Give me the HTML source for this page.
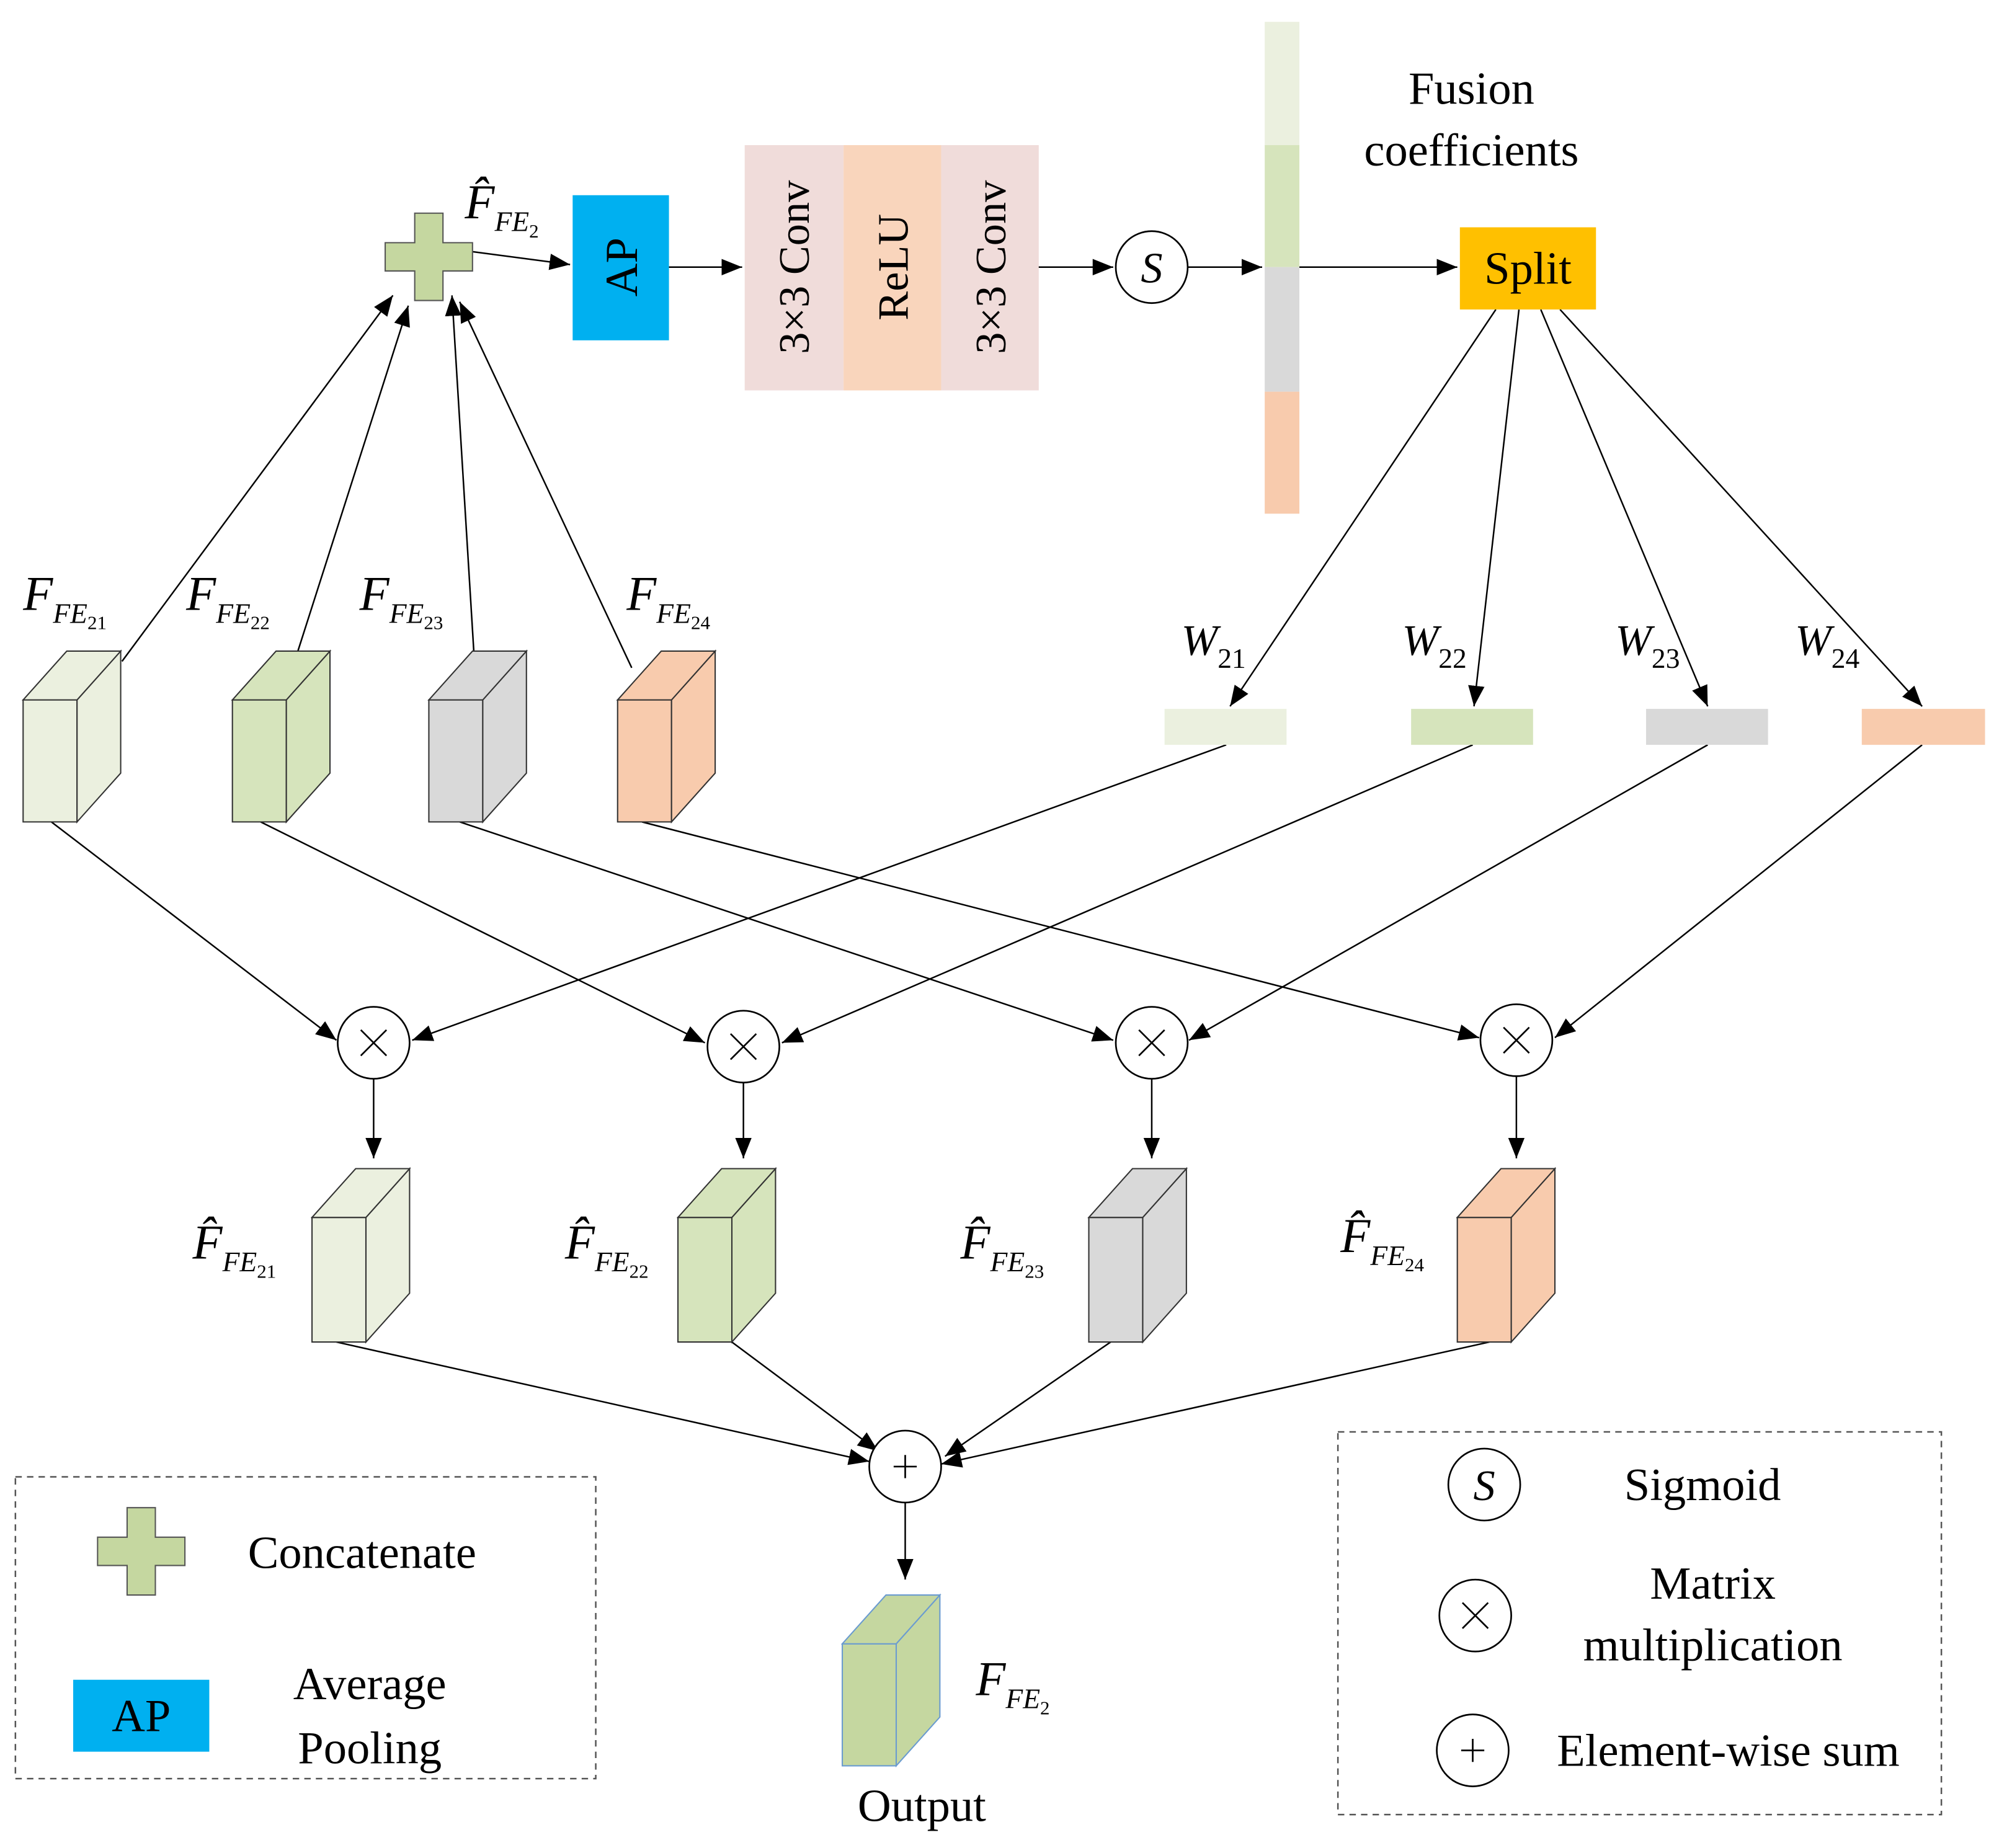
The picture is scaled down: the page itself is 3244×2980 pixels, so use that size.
<!DOCTYPE html>
<html><head><meta charset="utf-8"><style>html,body{margin:0;padding:0;background:#fff}svg{display:block}</style></head><body>
<svg width="3244" height="2980" viewBox="0 0 1567 1439" preserveAspectRatio="none" xmlns="http://www.w3.org/2000/svg" font-family="Liberation Serif, serif">
<defs>
<marker id="b" viewBox="0 0 10 10" refX="10" refY="5" markerWidth="16" markerHeight="16" markerUnits="userSpaceOnUse" orient="auto"><path d="M0,1 L10,5 L0,9 z" fill="#000"/></marker>
</defs>
<rect width="1567" height="1439" fill="#fff"/>
<g stroke="#000" stroke-width="1.2" fill="none" marker-end="url(#b)">
<line x1="368" y1="196" x2="444" y2="206"/>
<line x1="521" y1="208" x2="578" y2="208"/>
<line x1="808" y1="208" x2="867" y2="208"/>
<line x1="925" y1="208" x2="983" y2="208"/>
<line x1="1012" y1="208" x2="1135" y2="208"/>
<line x1="1165" y1="241" x2="958" y2="550"/>
<line x1="1183" y1="241" x2="1148" y2="550"/>
<line x1="1200" y1="241" x2="1330" y2="550"/>
<line x1="1215" y1="241" x2="1497" y2="550"/>
<line x1="95" y1="515" x2="306" y2="230"/>
<line x1="232" y1="507" x2="318" y2="238"/>
<line x1="369" y1="507" x2="352" y2="230"/>
<line x1="492" y1="520" x2="358" y2="235"/>
<line x1="40" y1="640" x2="262" y2="810"/>
<line x1="203" y1="640" x2="549" y2="812"/>
<line x1="358" y1="640" x2="867" y2="810"/>
<line x1="500" y1="640" x2="1152" y2="808"/>
<line x1="955" y1="580" x2="321" y2="810"/>
<line x1="1147" y1="580" x2="609" y2="812"/>
<line x1="1330" y1="580" x2="926" y2="810"/>
<line x1="1497" y1="580" x2="1211" y2="808"/>
<line x1="291" y1="840" x2="291" y2="902"/>
<line x1="579" y1="843" x2="579" y2="902"/>
<line x1="897" y1="840" x2="897" y2="902"/>
<line x1="1181" y1="838" x2="1181" y2="902"/>
<line x1="262" y1="1045" x2="677" y2="1138"/>
<line x1="570" y1="1045" x2="684" y2="1130"/>
<line x1="865" y1="1045" x2="736" y2="1134"/>
<line x1="1160" y1="1045" x2="733" y2="1140"/>
<line x1="705" y1="1170" x2="705" y2="1230"/>
</g>
<path d="M323,166 h22 v23 h23 v22 h-23 v23 h-22 v-23 h-23 v-22 h23 z" fill="#C5D7A0" stroke="#555" stroke-width="1"/>
<rect x="446" y="152" width="75" height="113" fill="#00B0F0"/>
<text transform="translate(496,208) rotate(-90)" font-size="36" text-anchor="middle">AP</text>
<rect x="580" y="113" width="77" height="191" fill="#F0DCDA"/>
<rect x="657" y="113" width="76" height="191" fill="#F9D5BC"/>
<rect x="733" y="113" width="76" height="191" fill="#F0DCDA"/>
<text transform="translate(630,208) rotate(-90)" font-size="34" text-anchor="middle">3×3 Conv</text>
<text transform="translate(707,208) rotate(-90)" font-size="34" text-anchor="middle">ReLU</text>
<text transform="translate(783,208) rotate(-90)" font-size="34" text-anchor="middle">3×3 Conv</text>
<circle cx="897" cy="208" r="28" fill="#fff" stroke="#000" stroke-width="1.3"/>
<text x="897" y="220" font-size="34" font-style="italic" text-anchor="middle">S</text>
<rect x="985" y="17" width="27" height="96" fill="#EBF0DF"/>
<rect x="985" y="113" width="27" height="95" fill="#D6E4BC"/>
<rect x="985" y="208" width="27" height="97" fill="#D9D9D9"/>
<rect x="985" y="305" width="27" height="95" fill="#F8CBAD"/>
<text x="1146" y="81" font-size="36" text-anchor="middle">Fusion</text>
<text x="1146" y="129" font-size="36" text-anchor="middle">coefficients</text>
<rect x="1137" y="177" width="106" height="64" fill="#FFC000"/>
<text x="1190" y="221" font-size="36" text-anchor="middle">Split</text>
<rect x="907" y="552" width="95" height="28" fill="#EBF0DF"/>
<rect x="1099" y="552" width="95" height="28" fill="#D6E4BC"/>
<rect x="1282" y="552" width="95" height="28" fill="#D9D9D9"/>
<rect x="1450" y="552" width="96" height="28" fill="#F8CBAD"/>
<g font-size="34" font-style="italic">
<text x="920" y="510">W<tspan font-size="22" font-style="normal" dy="10">21</tspan></text>
<text x="1092" y="510">W<tspan font-size="22" font-style="normal" dy="10">22</tspan></text>
<text x="1258" y="510">W<tspan font-size="22" font-style="normal" dy="10">23</tspan></text>
<text x="1398" y="510">W<tspan font-size="22" font-style="normal" dy="10">24</tspan></text>
</g>
<g stroke="#333" stroke-width="1">
<g><path d="M18,545 h42 v95 h-42 z" fill="#EBF0DF"/><path d="M60,545 l34,-38 v95 l-34,38 z" fill="#EBF0DF"/><path d="M18,545 l34,-38 h42 l-34,38 z" fill="#EBF0DF"/></g>
<g transform="translate(163,0)"><path d="M18,545 h42 v95 h-42 z" fill="#D6E4BC"/><path d="M60,545 l34,-38 v95 l-34,38 z" fill="#D6E4BC"/><path d="M18,545 l34,-38 h42 l-34,38 z" fill="#D6E4BC"/></g>
<g transform="translate(316,0)"><path d="M18,545 h42 v95 h-42 z" fill="#D9D9D9"/><path d="M60,545 l34,-38 v95 l-34,38 z" fill="#D9D9D9"/><path d="M18,545 l34,-38 h42 l-34,38 z" fill="#D9D9D9"/></g>
<g transform="translate(463,0)"><path d="M18,545 h42 v95 h-42 z" fill="#F8CBAD"/><path d="M60,545 l34,-38 v95 l-34,38 z" fill="#F8CBAD"/><path d="M18,545 l34,-38 h42 l-34,38 z" fill="#F8CBAD"/></g>
<g transform="translate(225,403)"><path d="M18,545 h42 v97 h-42 z" fill="#EBF0DF"/><path d="M60,545 l34,-38 v97 l-34,38 z" fill="#EBF0DF"/><path d="M18,545 l34,-38 h42 l-34,38 z" fill="#EBF0DF"/></g>
<g transform="translate(510,403)"><path d="M18,545 h42 v97 h-42 z" fill="#D6E4BC"/><path d="M60,545 l34,-38 v97 l-34,38 z" fill="#D6E4BC"/><path d="M18,545 l34,-38 h42 l-34,38 z" fill="#D6E4BC"/></g>
<g transform="translate(830,403)"><path d="M18,545 h42 v97 h-42 z" fill="#D9D9D9"/><path d="M60,545 l34,-38 v97 l-34,38 z" fill="#D9D9D9"/><path d="M18,545 l34,-38 h42 l-34,38 z" fill="#D9D9D9"/></g>
<g transform="translate(1117,403)"><path d="M18,545 h42 v97 h-42 z" fill="#F8CBAD"/><path d="M60,545 l34,-38 v97 l-34,38 z" fill="#F8CBAD"/><path d="M18,545 l34,-38 h42 l-34,38 z" fill="#F8CBAD"/></g>
<g transform="translate(638,735)" stroke="#6A9BD0"><path d="M18,545 h42 v95 h-42 z" fill="#C5D7A0"/><path d="M60,545 l34,-38 v95 l-34,38 z" fill="#C5D7A0"/><path d="M18,545 l34,-38 h42 l-34,38 z" fill="#C5D7A0"/></g>
</g>
<g font-size="38" font-style="italic">
<text x="18" y="475">F<tspan font-size="22" dy="10">FE</tspan><tspan font-size="15" font-style="normal" dy="5">21</tspan></text>
<text x="145" y="475">F<tspan font-size="22" dy="10">FE</tspan><tspan font-size="15" font-style="normal" dy="5">22</tspan></text>
<text x="280" y="475">F<tspan font-size="22" dy="10">FE</tspan><tspan font-size="15" font-style="normal" dy="5">23</tspan></text>
<text x="488" y="475">F<tspan font-size="22" dy="10">FE</tspan><tspan font-size="15" font-style="normal" dy="5">24</tspan></text>
<text x="362" y="170">F̂<tspan font-size="22" dy="10">FE</tspan><tspan font-size="15" font-style="normal" dy="5">2</tspan></text>
<text x="150" y="980">F̂<tspan font-size="22" dy="10">FE</tspan><tspan font-size="15" font-style="normal" dy="5">21</tspan></text>
<text x="440" y="980">F̂<tspan font-size="22" dy="10">FE</tspan><tspan font-size="15" font-style="normal" dy="5">22</tspan></text>
<text x="748" y="980">F̂<tspan font-size="22" dy="10">FE</tspan><tspan font-size="15" font-style="normal" dy="5">23</tspan></text>
<text x="1044" y="975">F̂<tspan font-size="22" dy="10">FE</tspan><tspan font-size="15" font-style="normal" dy="5">24</tspan></text>
<text x="760" y="1320">F<tspan font-size="22" dy="10">FE</tspan><tspan font-size="15" font-style="normal" dy="5">2</tspan></text>
</g>
<text x="718" y="1418" font-size="36" text-anchor="middle">Output</text>
<g stroke="#000" stroke-width="1.3">
<circle cx="291" cy="812" r="28" fill="#fff"/><path d="M281,802 l20,20 M301,802 l-20,20"/>
<circle cx="579" cy="815" r="28" fill="#fff"/><path d="M569,805 l20,20 M589,805 l-20,20"/>
<circle cx="897" cy="812" r="28" fill="#fff"/><path d="M887,802 l20,20 M907,802 l-20,20"/>
<circle cx="1181" cy="810" r="28" fill="#fff"/><path d="M1171,800 l20,20 M1191,800 l-20,20"/>
<circle cx="705" cy="1142" r="28" fill="#fff"/><path d="M705,1133 v18 M696,1142 h18"/>
</g>
<rect x="12" y="1150" width="452" height="235" fill="none" stroke="#555" stroke-width="1.2" stroke-dasharray="5,4"/>
<path d="M99,1174 h22 v23 h23 v22 h-23 v23 h-22 v-23 h-23 v-22 h23 z" fill="#C5D7A0" stroke="#555" stroke-width="1"/>
<text x="282" y="1221" font-size="36" text-anchor="middle">Concatenate</text>
<rect x="57" y="1308" width="106" height="56" fill="#00B0F0"/>
<text x="110" y="1348" font-size="36" text-anchor="middle">AP</text>
<text x="288" y="1323" font-size="36" text-anchor="middle">Average</text>
<text x="288" y="1373" font-size="36" text-anchor="middle">Pooling</text>
<rect x="1042" y="1115" width="470" height="298" fill="none" stroke="#555" stroke-width="1.2" stroke-dasharray="5,4"/>
<g stroke="#000" stroke-width="1.3">
<circle cx="1156" cy="1156" r="28" fill="#fff"/>
<circle cx="1149" cy="1258" r="28" fill="#fff"/><path d="M1139,1248 l20,20 M1159,1248 l-20,20"/>
<circle cx="1147" cy="1363" r="28" fill="#fff"/><path d="M1147,1354 v18 M1138,1363 h18"/>
</g>
<text x="1156" y="1168" font-size="34" font-style="italic" text-anchor="middle">S</text>
<text x="1326" y="1168" font-size="36" text-anchor="middle">Sigmoid</text>
<text x="1334" y="1245" font-size="36" text-anchor="middle">Matrix</text>
<text x="1334" y="1293" font-size="36" text-anchor="middle">multiplication</text>
<text x="1346" y="1375" font-size="36" text-anchor="middle">Element-wise sum</text>
</svg>
</body></html>
